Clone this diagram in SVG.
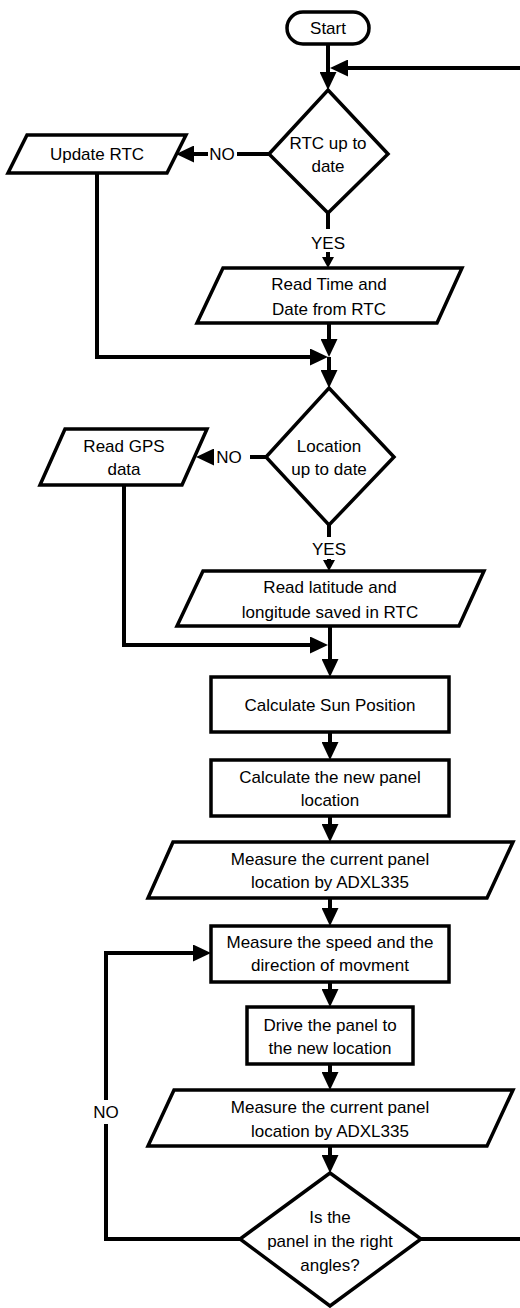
<svg xmlns="http://www.w3.org/2000/svg" width="520" height="1308" viewBox="0 0 520 1308">
<style>
.shape{fill:#fff;stroke:#000;stroke-width:3.5;stroke-linejoin:miter}
.conn{fill:none;stroke:#000;stroke-width:4}
text{font-family:"Liberation Sans",Arial,sans-serif;font-size:17px;fill:#000;text-anchor:middle}
</style>
<defs>
<marker id="arr" markerUnits="userSpaceOnUse" markerWidth="18" markerHeight="17" refX="10" refY="8.5" orient="auto">
<path d="M0,0 L18,8.5 L0,17 z" fill="#000"/>
</marker>
<marker id="arrs" markerUnits="userSpaceOnUse" markerWidth="11" markerHeight="12" refX="6" refY="6" orient="auto">
<path d="M0,0 L11,6 L0,12 z" fill="#000"/>
</marker>
</defs>
<rect width="520" height="1308" fill="#fff"/>
<g id="connectors">
<line class="conn" x1="328" y1="44" x2="328" y2="82" marker-end="url(#arr)"/>
<polyline class="conn" points="421,1239 523,1239 523,68 338,68" marker-end="url(#arr)"/>
<line class="conn" x1="269" y1="154" x2="237" y2="154"/>
<line class="conn" x1="208" y1="154" x2="184" y2="154" marker-end="url(#arr)"/>
<polyline class="conn" points="97,173 97,357 320,357" marker-end="url(#arr)"/>
<line class="conn" x1="328" y1="213" x2="328" y2="229"/>
<line class="conn" x1="328" y1="252" x2="328" y2="263" marker-end="url(#arrs)"/>
<line class="conn" x1="329" y1="323" x2="329" y2="349" marker-end="url(#arr)"/>
<line class="conn" x1="329" y1="357" x2="329" y2="380" marker-end="url(#arr)"/>
<line class="conn" x1="266" y1="457" x2="250" y2="457"/>
<line class="conn" x1="214" y1="457" x2="204" y2="457" marker-end="url(#arr)"/>
<polyline class="conn" points="124,485 124,645 320,645" marker-end="url(#arr)"/>
<line class="conn" x1="329" y1="525" x2="329" y2="537"/>
<line class="conn" x1="329" y1="559" x2="329" y2="566" marker-end="url(#arrs)"/>
<line class="conn" x1="330" y1="626" x2="330" y2="669" marker-end="url(#arr)"/>
<line class="conn" x1="330" y1="732" x2="330" y2="752" marker-end="url(#arr)"/>
<line class="conn" x1="330" y1="816" x2="330" y2="834" marker-end="url(#arr)"/>
<line class="conn" x1="330" y1="898" x2="330" y2="918" marker-end="url(#arr)"/>
<line class="conn" x1="330" y1="982" x2="330" y2="999" marker-end="url(#arr)"/>
<line class="conn" x1="330" y1="1064" x2="330" y2="1082" marker-end="url(#arr)"/>
<line class="conn" x1="330" y1="1146" x2="330" y2="1165" marker-end="url(#arr)"/>
<polyline class="conn" points="240,1239 106,1239 106,953 203,953" marker-end="url(#arr)"/>
<text x="222" y="160">NO</text>
<text x="328" y="249">YES</text>
<text x="229" y="463">NO</text>
<text x="329" y="555">YES</text>
<rect x="94" y="1100" width="24" height="24" fill="#fff"/>
<text x="106" y="1118">NO</text>
</g>
<g id="start">
<rect class="shape" x="287" y="12" width="82" height="32" rx="16"/>
<text x="328" y="34">Start</text>
</g>
<g id="rtc-decision">
<polygon class="shape" points="328,90 388,154 328,213 269,154"/>
<text x="328" y="149">RTC up to</text>
<text x="328" y="172">date</text>
</g>
<g id="update-rtc">
<polygon class="shape" points="27,135 186,135 167,173 8,173"/>
<text x="97" y="160">Update RTC</text>
</g>
<g id="read-time">
<polygon class="shape" points="223,268 462,268 437,323 197,323"/>
<text x="329" y="290">Read Time and</text>
<text x="329" y="315">Date from RTC</text>
</g>
<g id="location-decision">
<polygon class="shape" points="329,388 394,457 329,525 266,457"/>
<text x="329" y="452">Location</text>
<text x="329" y="475">up to date</text>
</g>
<g id="read-gps">
<polygon class="shape" points="65,429 207,429 182,485 40,485"/>
<text x="124" y="452">Read GPS</text>
<text x="124" y="475">data</text>
</g>
<g id="read-latitude">
<polygon class="shape" points="203,571 484,571 459,626 177,626"/>
<text x="330" y="593">Read latitude and</text>
<text x="330" y="618">longitude saved in RTC</text>
</g>
<g id="calc-sun">
<rect class="shape" x="211" y="677" width="238" height="55"/>
<text x="330" y="711">Calculate Sun Position</text>
</g>
<g id="calc-panel">
<rect class="shape" x="211" y="760" width="238" height="56"/>
<text x="330" y="783">Calculate the new panel</text>
<text x="330" y="806">location</text>
</g>
<g id="measure-1">
<polygon class="shape" points="173,842 513,842 487,898 148,898"/>
<text x="330" y="865">Measure the current panel</text>
<text x="330" y="888">location by ADXL335</text>
</g>
<g id="measure-speed">
<rect class="shape" x="211" y="926" width="238" height="56"/>
<text x="330" y="948">Measure the speed and the</text>
<text x="330" y="971">direction of movment</text>
</g>
<g id="drive">
<rect class="shape" x="247" y="1007" width="166" height="57"/>
<text x="330" y="1031">Drive the panel to</text>
<text x="330" y="1054">the new location</text>
</g>
<g id="measure-2">
<polygon class="shape" points="174,1090 513,1090 487,1146 148,1146"/>
<text x="330" y="1113">Measure the current panel</text>
<text x="330" y="1137">location by ADXL335</text>
</g>
<g id="angle-decision">
<polygon class="shape" points="330,1173 421,1239 330,1306 240,1239"/>
<text x="330" y="1223">Is the</text>
<text x="330" y="1247">panel in the right</text>
<text x="330" y="1271">angles?</text>
</g>
</svg>
